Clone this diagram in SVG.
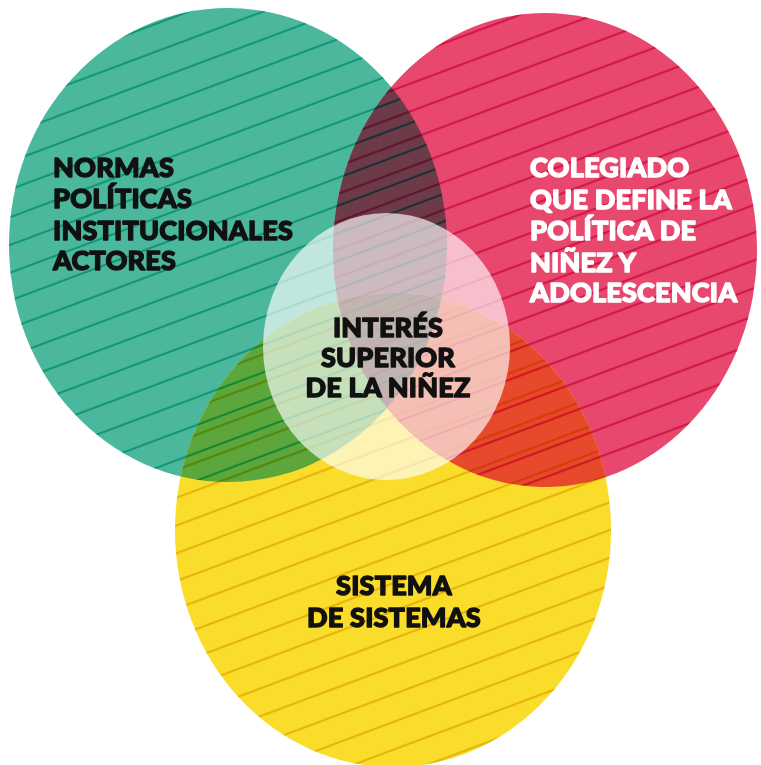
<svg xmlns="http://www.w3.org/2000/svg" width="761" height="765" viewBox="0 0 761 765">
<style>
.lbl{font-family:"Lato","Open Sans","Liberation Sans",sans-serif;font-weight:900;font-size:27px;stroke-width:1.4px;stroke-linejoin:round;letter-spacing:0.2px}
.dark{fill:#111;stroke:#111}
.light{fill:#fff;stroke:#fff}
.stripe{mix-blend-mode:multiply}
</style>
<defs>
<clipPath id="cTeal"><ellipse cx="228" cy="245" rx="219" ry="237"/></clipPath>
<clipPath id="cPink"><ellipse cx="545" cy="250" rx="212" ry="237"/></clipPath>
<clipPath id="cYel"><ellipse cx="393" cy="530" rx="218" ry="237"/></clipPath>
<pattern id="pTeal" patternUnits="userSpaceOnUse" width="200" height="26" patternTransform="rotate(-20.5)">
<rect x="0" y="23.9" width="200" height="2.2" fill="#3dd0c2"/>
</pattern>
<pattern id="pPink" patternUnits="userSpaceOnUse" width="200" height="26" patternTransform="rotate(-20.5)">
<rect x="0" y="12.9" width="200" height="2.2" fill="#e655a8"/>
</pattern>
<pattern id="pYel" patternUnits="userSpaceOnUse" width="200" height="26" patternTransform="rotate(-20.5)">
<rect x="0" y="6.9" width="200" height="2.2" fill="#ebd040"/>
</pattern>
</defs>
<rect width="761" height="765" fill="#fff"/>
<g id="circles">
<ellipse id="teal" cx="228" cy="245" rx="219" ry="237" fill="#4bb89d"/>
<ellipse id="pink" cx="545" cy="250" rx="212" ry="237" fill="#e8486e"/>
<ellipse id="yellow" cx="393" cy="530" rx="218" ry="237" fill="#fadd2b"/>
<ellipse cx="545" cy="250" rx="212" ry="237" fill="#6d3a48" clip-path="url(#cTeal)"/>
<ellipse cx="393" cy="530" rx="218" ry="237" fill="#5ca63c" clip-path="url(#cTeal)"/>
<ellipse cx="393" cy="530" rx="218" ry="237" fill="#e6492b" clip-path="url(#cPink)"/>
<g clip-path="url(#cTeal)"><ellipse cx="393" cy="530" rx="218" ry="237" fill="#4e2a22" clip-path="url(#cPink)"/></g>
<ellipse class="stripe" cx="228" cy="245" rx="219" ry="237" fill="url(#pTeal)"/>
<ellipse class="stripe" cx="545" cy="250" rx="212" ry="237" fill="url(#pPink)"/>
<ellipse class="stripe" cx="393" cy="530" rx="218" ry="237" fill="url(#pYel)"/>
<ellipse id="center" cx="386.5" cy="346.5" rx="123.5" ry="133.5" fill="#fff" fill-opacity="0.65"/>
</g>
<g id="node-normas" class="lbl dark">
<text x="53" y="177">NORMAS</text>
<text x="53" y="208">POLÍTICAS</text>
<text x="53" y="240">INSTITUCIONALES</text>
<text x="53" y="270">ACTORES</text>
</g>
<g id="node-colegiado" class="lbl light">
<text x="530" y="177">COLEGIADO</text>
<text x="530" y="209">QUE DEFINE LA</text>
<text x="530" y="240">POLÍTICA DE</text>
<text x="530" y="272">NIÑEZ Y</text>
<text x="530" y="302">ADOLESCENCIA</text>
</g>
<g id="node-interes" class="lbl dark" text-anchor="middle">
<text x="388" y="337">INTERÉS</text>
<text x="388" y="367">SUPERIOR</text>
<text x="388" y="397">DE LA NIÑEZ</text>
</g>
<g id="node-sistema" class="lbl dark" text-anchor="middle">
<text x="394" y="595">SISTEMA</text>
<text x="394" y="627">DE SISTEMAS</text>
</g>
<g id="connectors"/>
</svg>
